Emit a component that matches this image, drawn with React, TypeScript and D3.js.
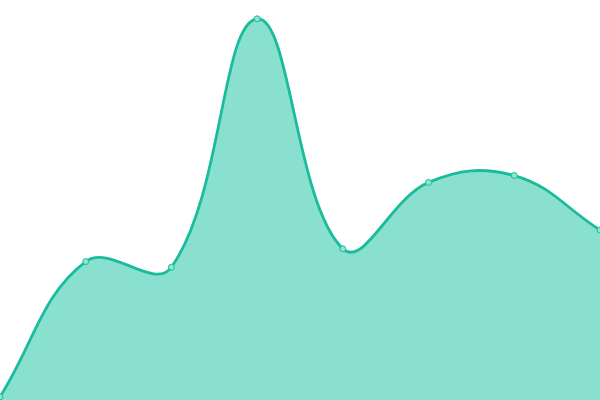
import React from 'react';
import * as d3 from 'd3';

const WIDTH = 600;
const HEIGHT = 400;

// series: one value per step (0..100 scale)
const steps = [0, 1, 2, 3, 4, 5, 6, 7];
const values = [0.8, 34.6, 33.2, 95.3, 37.8, 54.4, 56.1, 42.5];

// distance-weighted spline (tension 0.4), control points kept inside the plot
class SplineCurve {
    _context: any;
    _tension: number;
    _line: number = NaN;
    _x: number[] = [];
    _y: number[] = [];
    constructor(context: any, tension: number) {
        this._context = context;
        this._tension = tension;
    }
    areaStart() { this._line = 0; }
    areaEnd() { this._line = NaN; }
    lineStart() { this._x = []; this._y = []; }
    point(x: number, y: number) { this._x.push(+x); this._y.push(+y); }
    lineEnd() {
        const xs = this._x, ys = this._y, n = xs.length, ctx = this._context, t = this._tension;
        if (n) {
            if (this._line) ctx.lineTo(xs[0], ys[0]); else ctx.moveTo(xs[0], ys[0]);
            const prev: number[][] = [], next: number[][] = [];
            const cap = (px: number, py: number) => [
                Math.max(0, Math.min(WIDTH, px)),
                Math.max(0, Math.min(HEIGHT, py)),
            ];
            for (let i = 0; i < n; i++) {
                const a = i > 0 ? i - 1 : i;
                const b = i < n - 1 ? i + 1 : i;
                const d01 = Math.hypot(xs[i] - xs[a], ys[i] - ys[a]);
                const d12 = Math.hypot(xs[b] - xs[i], ys[b] - ys[i]);
                let s01 = d01 / (d01 + d12);
                let s12 = d12 / (d01 + d12);
                if (isNaN(s01)) s01 = 0;
                if (isNaN(s12)) s12 = 0;
                const fa = t * s01, fb = t * s12;
                prev[i] = cap(xs[i] - fa * (xs[b] - xs[a]), ys[i] - fa * (ys[b] - ys[a]));
                next[i] = cap(xs[i] + fb * (xs[b] - xs[a]), ys[i] + fb * (ys[b] - ys[a]));
            }
            for (let i = 1; i < n; i++) {
                ctx.bezierCurveTo(next[i - 1][0], next[i - 1][1], prev[i][0], prev[i][1], xs[i], ys[i]);
            }
        }
        if (this._line || (this._line !== 0 && n === 1)) ctx.closePath();
        this._line = 1 - this._line;
    }
}

const spline = (context: any) => new SplineCurve(context, 0.4);

const App: React.FC = () => {
    const x = d3.scaleLinear().domain([0, steps.length - 1]).range([0, WIDTH]);
    const y = d3.scaleLinear().domain([0, 100]).range([HEIGHT, 0]);

    const data = steps.map((s, i) => ({ s, v: values[i] }));

    const area = d3.area<{ s: number; v: number }>()
        .x(d => x(d.s))
        .y0(HEIGHT)
        .y1(d => y(d.v))
        .curve(spline as any);

    const line = d3.line<{ s: number; v: number }>()
        .x(d => x(d.s))
        .y(d => y(d.v))
        .curve(spline as any);

    return (
        <svg
            width={WIDTH}
            height={HEIGHT}
            style={{ position: 'absolute', left: 0, top: 0, display: 'block' }}
        >
            <rect width={WIDTH} height={HEIGHT} fill="#ffffff" />
            <path d={area(data) || ''} fill="#89e0cf" />
            <path d={line(data) || ''} fill="none" stroke="#1abc9c" strokeWidth={2.8} />
            {data.map((d, i) => (
                <circle
                    key={i}
                    cx={x(d.s)}
                    cy={y(d.v)}
                    r={3}
                    fill="#8fe3d2"
                    stroke="#1abc9c"
                    strokeWidth={1}
                />
            ))}
        </svg>
    );
};

export default App;
